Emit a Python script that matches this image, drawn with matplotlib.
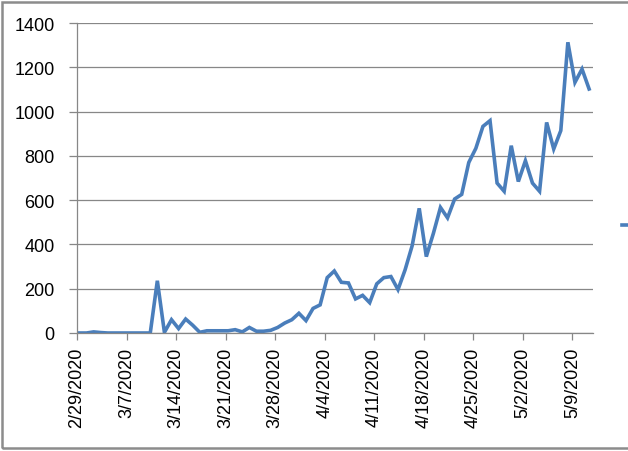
import matplotlib
matplotlib.use("Agg")
from matplotlib import pyplot as plt
from matplotlib.patches import Rectangle
from matplotlib.lines import Line2D
import numpy as np

# Data: daily counts from 2/29/2020 to 5/11/2020
start = np.datetime64('2020-02-29')
counts = [0, 0, 5, 2, 0, 0, 0, 0, 0, 0, 0, 236, 3, 60, 20, 63, 35, 3,
          10, 10, 10, 10, 15, 5, 25, 8, 8, 12, 25, 45, 60, 89, 56, 111,
          127, 250, 280, 229, 226, 154, 170, 137, 222, 250, 255, 196, 285,
          394, 563, 345, 450, 567, 520, 605, 626, 770, 834, 933, 959, 677,
          640, 846, 684, 778, 677, 640, 951, 831, 914, 1313, 1132, 1192, 1102]
days = np.arange(len(counts))
tick_days = np.arange(0, len(counts), 7)
tick_labels = []
for d in tick_days:
    dt = (start + np.timedelta64(int(d), 'D')).astype(object)
    tick_labels.append(f"{dt.month}/{dt.day}/{dt.year}")
y_ticks = np.arange(0, 1401, 200)

plt.rcParams['font.family'] = ['Liberation Sans', 'DejaVu Sans']
blue = '#4a7ebb'
grey = '#878787'

fig = plt.figure(figsize=(6.28, 4.52), dpi=100)
ax = fig.add_axes([77/628, 118/452, 516/628, 310/452])

line, = ax.plot(days + 0.35, counts, color=blue, lw=2.6, solid_joinstyle='miter')

ax.set_xlim(0, 72.9)
ax.set_ylim(0, 1400)
ax.set_xticks(tick_days)
ax.set_xticklabels(tick_labels, rotation=90)
ax.set_yticks(y_ticks)
ax.set_yticklabels([str(v) for v in y_ticks])
ax.grid(axis='y', color=grey, lw=0.9)
ax.set_axisbelow(True)

for s in ['top', 'right']:
    ax.spines[s].set_visible(False)
for s in ['left', 'bottom']:
    ax.spines[s].set_color(grey)
    ax.spines[s].set_linewidth(0.9)
ax.tick_params(axis='y', length=6, width=0.9, color=grey, pad=10, labelsize=13)
ax.tick_params(axis='x', length=5, width=0.9, color=grey, pad=5, labelsize=13)

# legend key clipped at the right edge (its label lies off the canvas)
fig.add_artist(Line2D([622/628, 1.02], [226/452, 226/452], transform=fig.transFigure,
                      color=blue, lw=2.6))

# outer chart border
fig.patches.append(Rectangle((1.5/628, 3/452), 2, 446/452, transform=fig.transFigure,
                             fill=False, edgecolor='#8c8c8c', lw=1.8))

fig.savefig('out.png', dpi=100)
